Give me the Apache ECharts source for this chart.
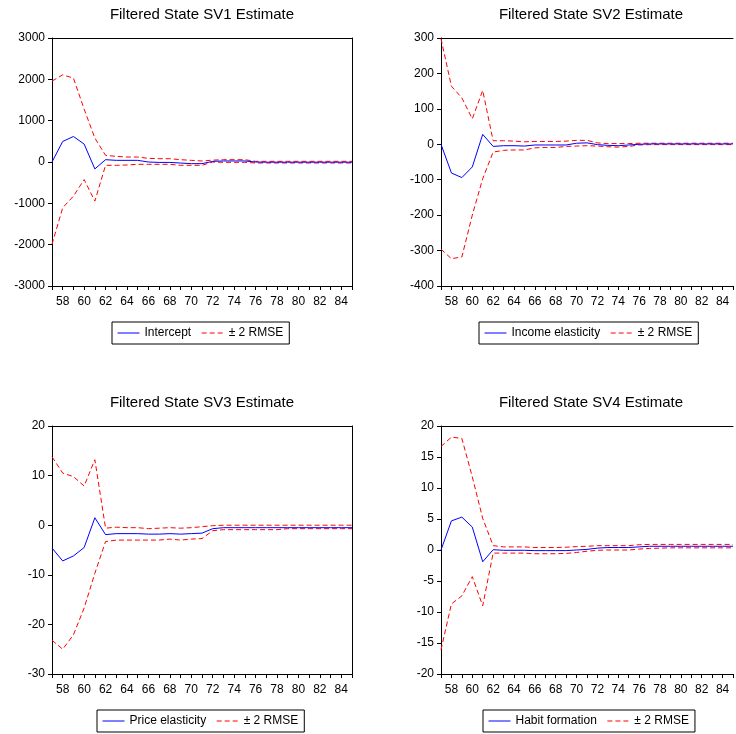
<!DOCTYPE html>
<html>
<head>
<meta charset="utf-8">
<script src="https://cdn.jsdelivr.net/npm/echarts@6/dist/echarts.min.js"></script>
<style>
  html, body { margin: 0; padding: 0; background: #fff; }
  #root { width: 736px; height: 734px; }
</style>
</head>
<body>
<div id="root"></div>
<script>
// Years 1957..1985 shown as two-digit labels
var years = [57, 58, 59, 60, 61, 62, 63, 64, 65, 66, 67, 68, 69, 70, 71,
  72, 73, 74, 75, 76, 77, 78, 79, 80, 81, 82, 83, 84, 85];

var titles = ["Filtered State SV1 Estimate", "Filtered State SV2 Estimate",
  "Filtered State SV3 Estimate", "Filtered State SV4 Estimate"];
var stateNames = ["Intercept", "Income elasticity", "Price elasticity", "Habit formation"];
var bandName = "\u00b1 2 RMSE";

// SV1 - intercept
var sv1Est = [0, 497, 617, 433, -168, 56, 40, 40, 40, 0, -10, -10, -25, -40, -40,
  15, 25, 25, 25, 0, -5, -5, -5, -5, -5, -5, -5, -5, -5];
var sv1Up = [1957, 2109, 2029, 1280, 578, 160, 136, 120, 120, 88, 80, 80, 56, 40, 24,
  45, 56, 56, 56, 16, 16, 16, 16, 16, 16, 16, 16, 16, 16];
var sv1Lo = [-1989, -1107, -826, -425, -946, -80, -80, -72, -56, -56, -56, -56, -80, -80, -80,
  0, -8, -8, -8, -24, -24, -24, -24, -24, -24, -24, -24, -24, -24];

// SV2 - income elasticity
var sv2Est = [0, -81, -94, -64, 28, -6, -4, -4, -5, -2, -2, -2, -2, 3, 4,
  -1, -3, -4, -2, 0, 1, 1, 1, 1, 1, 1, 1, 1, 1];
var sv2Up = [298, 164, 131, 72, 152, 10, 10, 9, 7, 8, 8, 8, 9, 11, 11,
  4, 2, 2, 2, 3, 3, 3, 3, 3, 3, 3, 3, 3, 3];
var sv2Lo = [-296, -323, -318, -200, -97, -22, -17, -16, -16, -10, -9, -9, -6, -5, -4,
  -5, -7, -8, -6, -2, -1, -1, -1, -1, -1, -1, -1, -1, -1];

// SV3 - price elasticity
var sv3Est = [-4.6, -7.2, -6.2, -4.5, 1.5, -1.9, -1.7, -1.7, -1.7, -1.8, -1.8, -1.7, -1.8, -1.7, -1.6,
  -0.7, -0.5, -0.5, -0.5, -0.5, -0.5, -0.5, -0.5, -0.5, -0.5, -0.5, -0.5, -0.5, -0.5];
var sv3Up = [13.8, 10.5, 9.8, 7.9, 13.2, -0.6, -0.4, -0.5, -0.5, -0.7, -0.6, -0.5, -0.6, -0.5, -0.3,
  -0.1, 0, 0, 0, 0, 0, 0, 0, 0, 0, 0, 0, 0, 0];
var sv3Lo = [-23.2, -25.0, -22.1, -16.7, -9.7, -3.3, -3.0, -3.0, -3.0, -3.0, -3.0, -2.8, -3.0, -2.8, -2.7,
  -1.1, -0.9, -0.9, -0.9, -0.9, -0.9, -0.9, -0.7, -0.7, -0.7, -0.7, -0.7, -0.7, -0.7];

// SV4 - habit formation
var sv4Est = [0, 4.7, 5.3, 3.7, -1.9, 0.05, -0.05, -0.05, -0.05, -0.1, -0.1, -0.1, -0.1, 0, 0.1,
  0.3, 0.4, 0.4, 0.4, 0.5, 0.6, 0.6, 0.6, 0.6, 0.6, 0.6, 0.6, 0.6, 0.6];
var sv4Up = [16.7, 18.2, 18.0, 11.8, 5.1, 0.7, 0.5, 0.5, 0.5, 0.4, 0.4, 0.4, 0.45, 0.55, 0.6,
  0.7, 0.7, 0.7, 0.7, 0.85, 0.9, 0.9, 0.9, 0.9, 0.9, 0.9, 0.9, 0.9, 0.9];
var sv4Lo = [-16.1, -8.7, -7.4, -4.3, -9.0, -0.5, -0.5, -0.5, -0.5, -0.6, -0.6, -0.6, -0.55, -0.4, -0.2,
  -0.05, 0, 0, 0, 0.15, 0.25, 0.3, 0.35, 0.35, 0.35, 0.35, 0.35, 0.35, 0.35];

// y axis ranges per panel
var yMin = [-3000, -400, -30, -20];
var yMax = [3000, 300, 20, 20];
var yStep = [1000, 100, 10, 5];

var panels = [
  { est: sv1Est, up: sv1Up, lo: sv1Lo },
  { est: sv2Est, up: sv2Up, lo: sv2Lo },
  { est: sv3Est, up: sv3Up, lo: sv3Lo },
  { est: sv4Est, up: sv4Up, lo: sv4Lo }
];

var FONT = "'Liberation Sans', Arial, sans-serif";

// panel placement (pixels); right-hand panels run off the page edge
var gridPos = [
  { left: 52, top: 38, width: 300, height: 248 },
  { left: 441, top: 38, width: 294, height: 248 },
  { left: 52, top: 426, width: 300, height: 248 },
  { left: 441, top: 426, width: 294, height: 248 }
];
var hasRightEdge = [true, false, true, false];
var titlePos = [[202, 7], [591, 7], [202, 395], [591, 395]];
var legendPos = [[112, 322], [479, 322], [97, 710], [483, 710]];

function pairs(arr) {
  return arr.map(function (v, i) { return [years[i], v]; });
}

var option = {
  backgroundColor: "#ffffff",
  animation: false,
  title: [],
  legend: [],
  grid: [],
  xAxis: [],
  yAxis: [],
  series: []
};

var black = { color: "#000", width: 1 };

panels.forEach(function (p, k) {
  option.title.push({
    text: titles[k],
    left: titlePos[k][0],
    top: titlePos[k][1],
    textAlign: "center",
    padding: 0,
    textStyle: { fontFamily: FONT, fontSize: 15, fontWeight: "normal", color: "#000" }
  });

  option.legend.push({
    data: [stateNames[k], bandName],
    left: legendPos[k][0],
    top: legendPos[k][1],
    orient: "horizontal",
    padding: [5, 6, 5, 5],
    itemGap: 10,
    itemWidth: 22,
    itemHeight: 12,
    borderColor: "#000",
    borderWidth: 1,
    backgroundColor: "#fff",
    selectedMode: false,
    itemStyle: { opacity: 0 },
    lineStyle: { width: 1 },
    textStyle: { fontFamily: FONT, fontSize: 12, color: "#000" }
  });

  option.grid.push(Object.assign({ show: false }, gridPos[k]));

  // bottom axis with yearly ticks
  option.xAxis.push({
    type: "value",
    gridIndex: k,
    position: "bottom",
    min: 57,
    max: 85,
    interval: 1,
    splitLine: { show: false },
    axisLine: { onZero: false, lineStyle: black },
    axisTick: { show: true, length: 4, lineStyle: black },
    axisLabel: {
      margin: 10,
      fontFamily: FONT,
      fontSize: 12,
      color: "#000",
      formatter: function (v) { return v % 2 === 0 ? String(v) : ""; }
    }
  });
  // top frame line
  option.xAxis.push({
    type: "value",
    gridIndex: k,
    position: "top",
    min: 57,
    max: 85,
    splitLine: { show: false },
    axisLine: { onZero: false, lineStyle: black },
    axisTick: { show: false },
    axisLabel: { show: false }
  });

  option.yAxis.push({
    type: "value",
    gridIndex: k,
    position: "left",
    min: yMin[k],
    max: yMax[k],
    interval: yStep[k],
    splitLine: { show: false },
    axisLine: { show: true, onZero: false, lineStyle: black },
    axisTick: { show: true, length: 4, lineStyle: black },
    axisLabel: {
      margin: 7, fontFamily: FONT, fontSize: 12, color: "#000",
      formatter: function (v) { return String(v); }
    }
  });
  // right frame line (only where the panel edge is on the page)
  option.yAxis.push({
    type: "value",
    gridIndex: k,
    position: "right",
    min: yMin[k],
    max: yMax[k],
    splitLine: { show: false },
    axisLine: { show: hasRightEdge[k], onZero: false, lineStyle: black },
    axisTick: { show: false },
    axisLabel: { show: false }
  });

  var xi = k * 2, yi = k * 2;
  var dashed = { color: "#ff0000", width: 1, type: [5, 3] };
  option.series.push({
    name: bandName, type: "line", xAxisIndex: xi, yAxisIndex: yi,
    data: pairs(p.up), symbol: "none", lineStyle: dashed, color: "#ff0000"
  });
  option.series.push({
    name: bandName, type: "line", xAxisIndex: xi, yAxisIndex: yi,
    data: pairs(p.lo), symbol: "none", lineStyle: dashed, color: "#ff0000"
  });
  option.series.push({
    name: stateNames[k], type: "line", xAxisIndex: xi, yAxisIndex: yi,
    data: pairs(p.est), symbol: "none",
    lineStyle: { color: "#0000ff", width: 1 }, color: "#0000ff"
  });
});

var chart = echarts.init(document.getElementById("root"), null, { renderer: "canvas" });
chart.setOption(option);
</script>
</body>
</html>
